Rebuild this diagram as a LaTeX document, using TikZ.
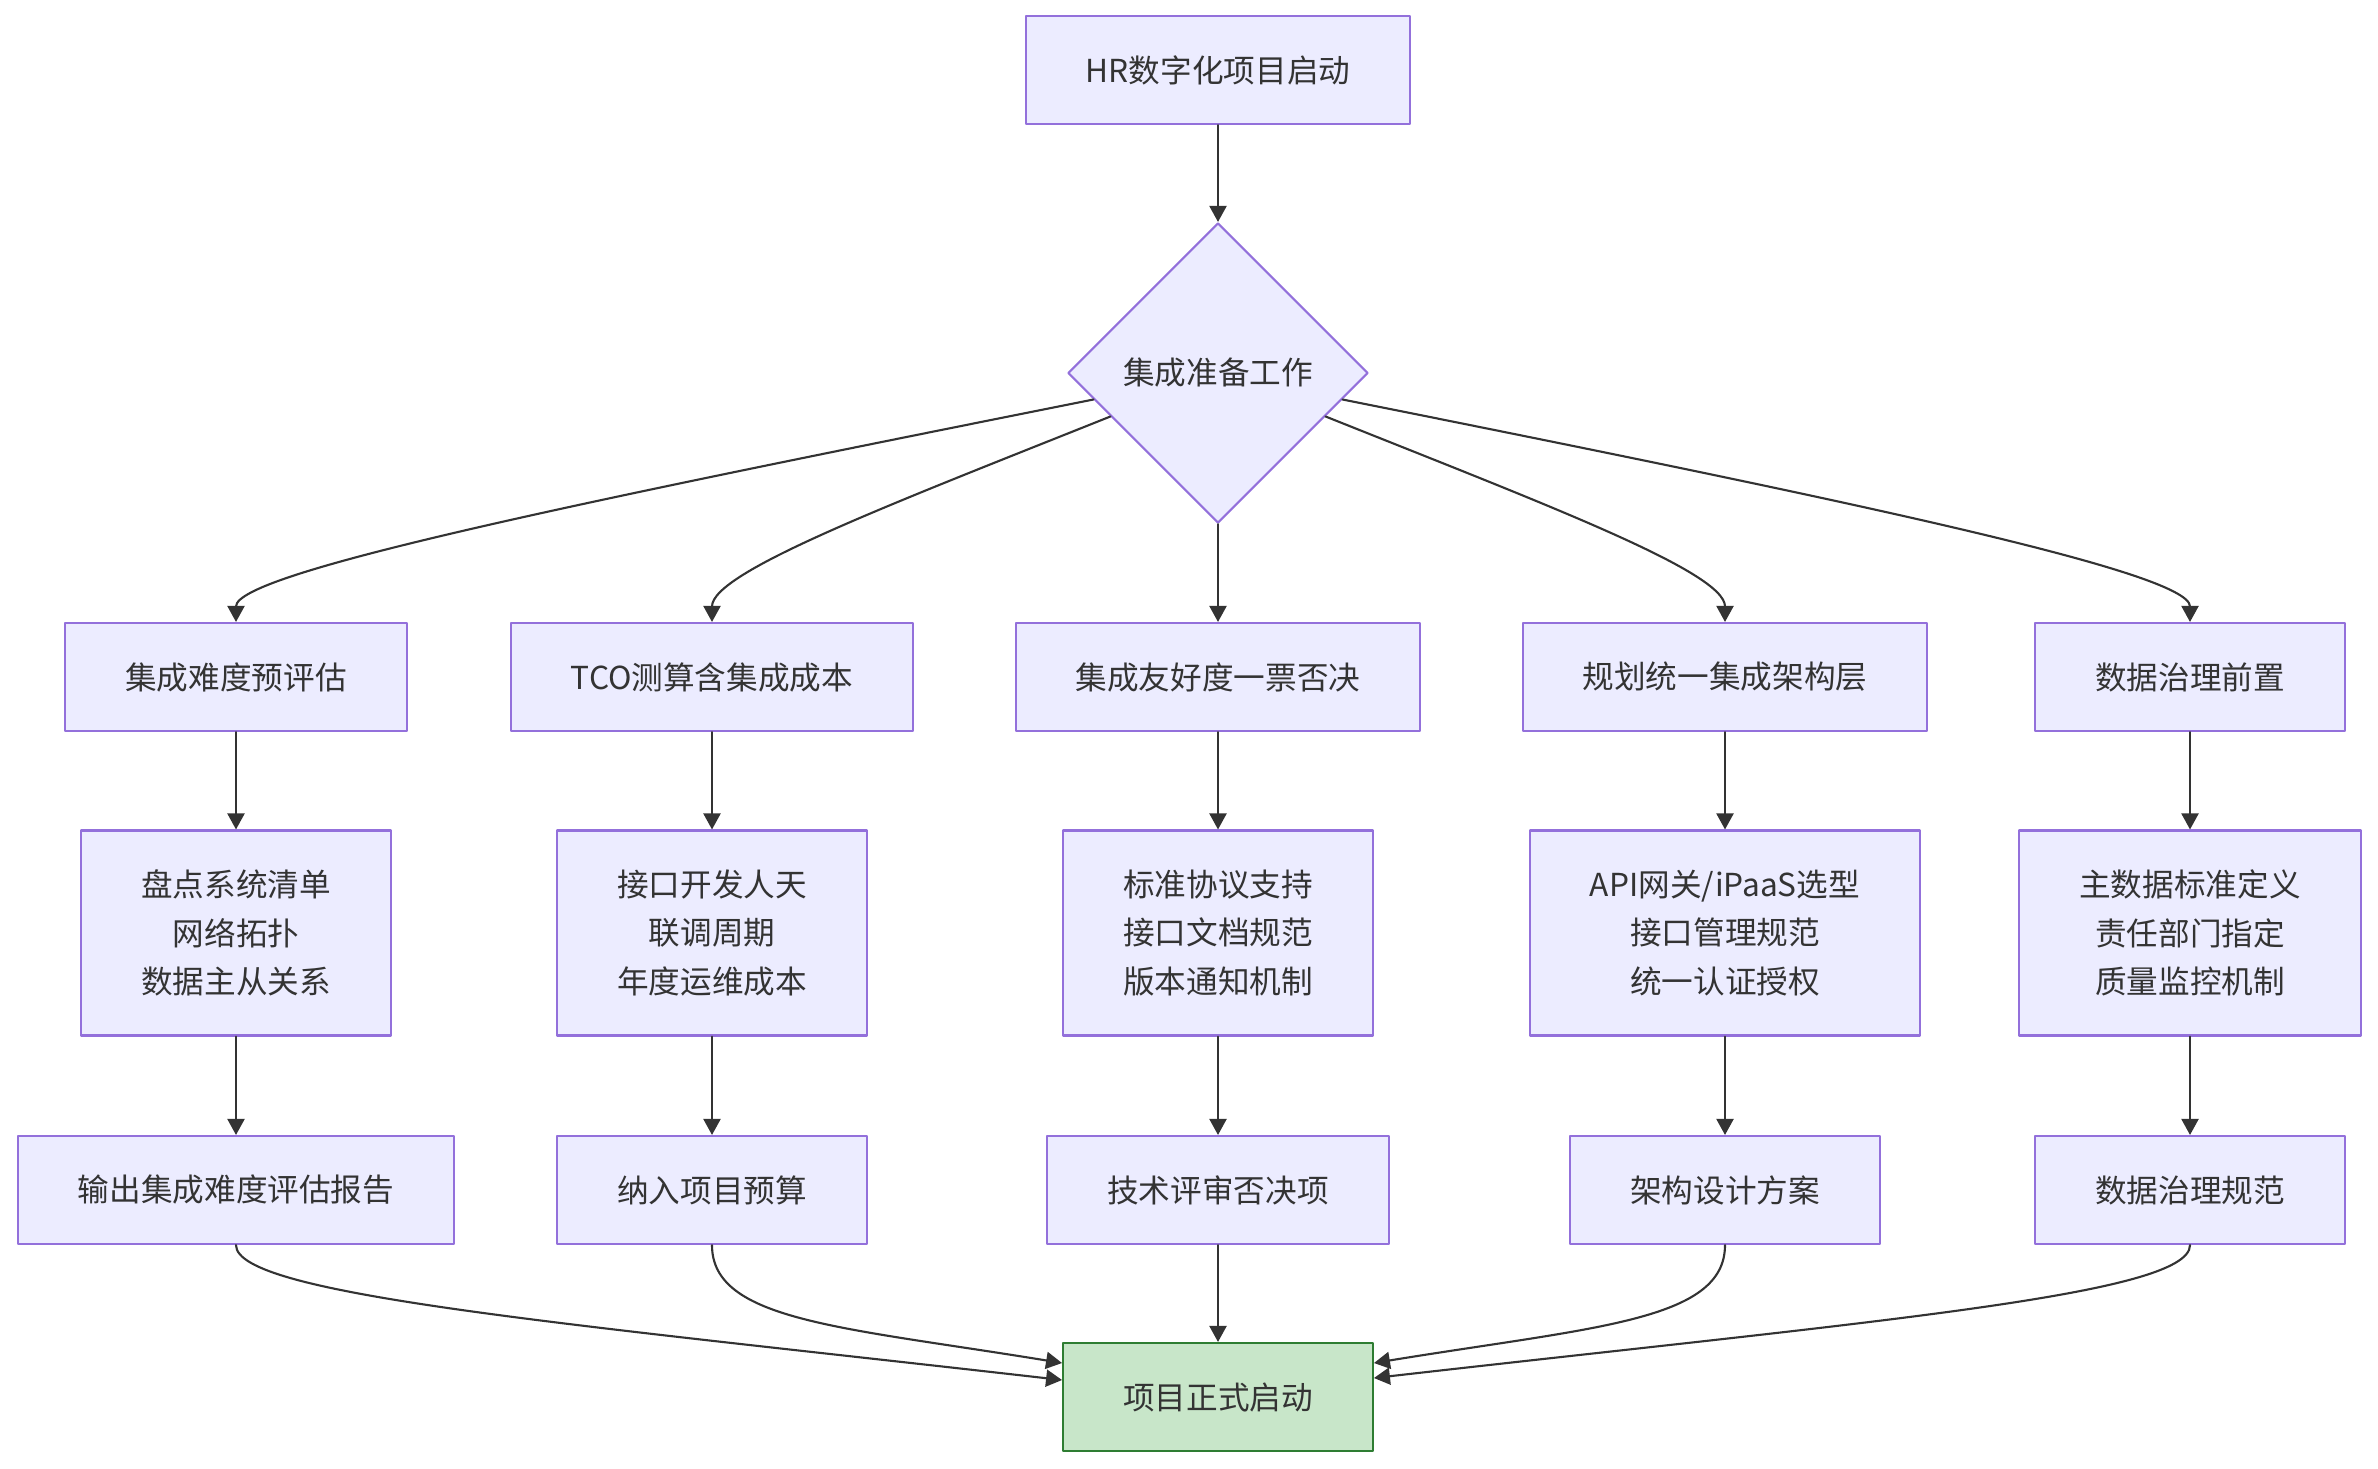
\documentclass[tikz,border=0pt]{standalone}
\usepackage{fontspec}
\setmainfont{Noto Sans CJK SC}
\usetikzlibrary{arrows.meta,shapes.geometric}
\definecolor{boxfill}{HTML}{ECECFF}
\definecolor{boxline}{HTML}{9370DB}
\definecolor{ink}{HTML}{333333}
\definecolor{okfill}{HTML}{C8E6C9}
\definecolor{okline}{HTML}{2E7D32}
\tikzset{
  bx/.style={rectangle,draw=boxline,fill=boxfill,line width=0.6pt,text=ink,
             inner xsep=0.6cm,minimum height=1.08cm,align=center,
             font=\fontsize{9}{13.8}\selectfont},
  tall/.style={bx,minimum height=2.05cm},
  dc/.style={diamond,draw=boxline,fill=boxfill,line width=0.6pt,text=ink,
             inner sep=0pt,minimum size=3cm,font=\fontsize{9}{13.8}\selectfont},
  ok/.style={bx,draw=okline,fill=okfill},
  ar/.style={draw=ink,line width=0.6pt,-{Triangle[length=0.16cm,width=0.17cm]}},
  every picture/.style={line cap=round,line join=round}}

\begin{document}
\begin{tikzpicture}
  \useasboundingbox (0,0) rectangle (23.78,-14.68);
  \node[bx] (top) at (12.18,-0.70){HR数字化项目启动};
  \node[dc] (dia) at (12.18,-3.73){集成准备工作};
  % first row
  \node[bx] (a1) at (2.36,-6.77){集成难度预评估};
  \node[bx] (a2) at (7.12,-6.77){TCO测算含集成成本};
  \node[bx] (a3) at (12.18,-6.77){集成友好度一票否决};
  \node[bx] (a4) at (17.25,-6.77){规划统一集成架构层};
  \node[bx] (a5) at (21.90,-6.77){数据治理前置};
  % second row
  \node[tall] (b1) at (2.36,-9.33){盘点系统清单\\网络拓扑\\数据主从关系};
  \node[tall] (b2) at (7.12,-9.33){接口开发人天\\联调周期\\年度运维成本};
  \node[tall] (b3) at (12.18,-9.33){标准协议支持\\接口文档规范\\版本通知机制};
  \node[tall] (b4) at (17.25,-9.33){API网关/iPaaS选型\\接口管理规范\\统一认证授权};
  \node[tall] (b5) at (21.90,-9.33){主数据标准定义\\责任部门指定\\质量监控机制};
  % third row
  \node[bx] (c1) at (2.36,-11.90){输出集成难度评估报告};
  \node[bx] (c2) at (7.12,-11.90){纳入项目预算};
  \node[bx] (c3) at (12.18,-11.90){技术评审否决项};
  \node[bx] (c4) at (17.25,-11.90){架构设计方案};
  \node[bx] (c5) at (21.90,-11.90){数据治理规范};
  \node[ok] (fin) at (12.18,-13.97){项目正式启动};

  \draw[ar] (top) -- (dia);
  \draw[ar] (dia.192) .. controls +(-5,-1) and +(0,0.5) .. (a1.north);
  \draw[ar] (dia.202) .. controls +(-2.2,-0.88) and +(0,0.5) .. (a2.north);
  \draw[ar] (dia) -- (a3);
  \draw[ar] (dia.338) .. controls +(2.2,-0.88) and +(0,0.5) .. (a4.north);
  \draw[ar] (dia.348) .. controls +(5,-1) and +(0,0.5) .. (a5.north);
  \foreach \i in {1,...,5}{
    \draw[ar] (a\i) -- (b\i);
    \draw[ar] (b\i) -- (c\i);}
  \draw[ar] (c1.south) .. controls +(0,-0.5) and +(-5,0.57) .. ([yshift=0.17cm]fin.west);
  \draw[ar] (c2.south) .. controls +(0,-0.76) and +(-2.2,0.36) .. ([yshift=0.34cm]fin.west);
  \draw[ar] (c3) -- (fin);
  \draw[ar] (c4.south) .. controls +(0,-0.76) and +(2.2,0.36) .. ([yshift=0.34cm]fin.east);
  \draw[ar] (c5.south) .. controls +(0,-0.5) and +(5,0.57) .. ([yshift=0.19cm]fin.east);
\end{tikzpicture}
\end{document}
